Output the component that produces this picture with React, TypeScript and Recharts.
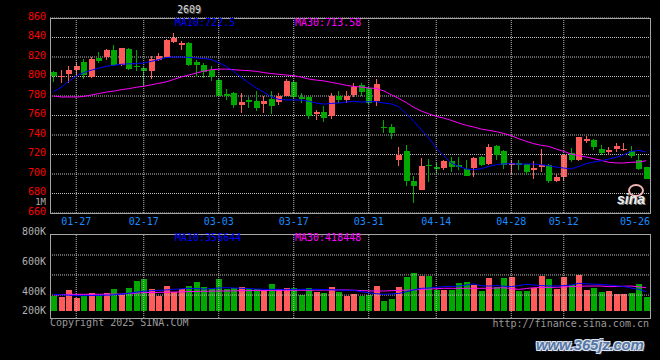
import React from "react";
import {
  Bar,
  CartesianGrid,
  ComposedChart,
  Line,
  ReferenceLine,
  XAxis,
  YAxis,
} from "recharts";

// trading days shown on the daily k-line
const DATES = [
  "01-22", "01-23", "01-24", "01-27", "02-05", "02-06", "02-07", "02-10", "02-11", "02-12",
  "02-13", "02-14", "02-17", "02-18", "02-19", "02-20", "02-21", "02-24", "02-25", "02-26",
  "02-27", "02-28", "03-03", "03-04", "03-05", "03-06", "03-07", "03-10", "03-11", "03-12",
  "03-13", "03-14", "03-17", "03-18", "03-19", "03-20", "03-21", "03-24", "03-25", "03-26",
  "03-27", "03-28", "03-31", "04-01", "04-02", "04-03", "04-07", "04-08", "04-09", "04-10",
  "04-11", "04-14", "04-15", "04-16", "04-17", "04-18", "04-21", "04-22", "04-23", "04-24",
  "04-25", "04-28", "04-29", "04-30", "05-06", "05-07", "05-08", "05-09", "05-12", "05-13",
  "05-14", "05-15", "05-16", "05-19", "05-20", "05-21", "05-22", "05-23", "05-26", "05-27",
];

const OPEN = [
  805, 800, 803, 806.5, 815, 800, 818.5, 820, 827.5, 812,
  828.5, 811, 809, 806, 816.5, 820, 835.5, 832, 834, 814.5,
  812, 807, 796.5, 782.5, 783.5, 770.5, 775.5, 775, 772, 777,
  773.5, 780, 794, 778.5, 779, 762, 764, 759, 780.5, 775.5,
  781.5, 791.5, 788, 775, 748, 748, 714.5, 724, 693, 684,
  709.5, 707, 706, 713, 709.5, 705.5, 706, 717.5, 710.5, 729,
  724, 709, 711, 710, 704.5, 707, 709.5, 693, 696.5, 722,
  714.5, 734, 735, 725.5, 722.5, 725.5, 725.5, 724, 714, 707,
];
const HIGH = [
  805.5, 807, 810.5, 815, 817.5, 820, 825.5, 828, 832, 829.5,
  829, 827.5, 809.5, 821, 824, 838, 845, 836.5, 835, 817,
  814, 810.5, 797, 787, 784, 783, 778.5, 785, 780, 785,
  783, 797, 795, 783, 779.5, 766, 769.5, 783, 785, 785,
  793, 793, 789, 797.5, 755, 751.5, 727.5, 730, 698, 716,
  715.5, 711.5, 714, 717.5, 717.5, 714.5, 717.5, 718, 731, 730,
  725, 714, 714, 710.5, 713, 726, 710, 700, 719.5, 726.5,
  738, 738.5, 735.5, 730, 727.5, 731.5, 732, 728.5, 719, 707.5,
];
const LOW = [
  794, 793.5, 793, 800, 797, 798, 814, 817, 810.5, 811,
  807, 805.5, 790, 797, 815.5, 819.5, 834.5, 827, 810.5, 800,
  798.5, 795, 779, 775.5, 767.5, 762.5, 768, 765, 763, 762,
  771, 779.5, 778, 772.5, 756, 755, 753, 756.5, 773, 773,
  779, 780.5, 772, 769.5, 742, 736, 708.5, 687.5, 670, 683.5,
  692, 700.5, 704.5, 702, 704, 697.5, 697, 708, 709.5, 714.5,
  705.5, 699.5, 704.5, 698.5, 695, 702.5, 690.5, 691.5, 692.5, 712,
  713, 731.5, 725, 719, 719, 723, 724, 716, 704.5, 694.5,
];
const CLOSE = [
  801, 801, 807, 811, 801.5, 818, 816, 827.5, 812, 829,
  808, 810, 806, 818, 821.5, 837.5, 839, 834, 812, 812,
  805, 799, 779.5, 780.5, 770.5, 773.5, 773.5, 768, 775, 769.5,
  780, 795, 778.5, 776.5, 759, 763.5, 757.5, 780.5, 775.5, 780.5,
  789, 784.5, 773, 792.5, 747, 742.5, 720, 692.5, 688, 708,
  708, 705.5, 713, 707, 707, 698, 716, 709.5, 727.5, 720,
  709.5, 711, 709.5, 702.5, 706, 709, 692.5, 696.5, 719, 714,
  737.5, 736, 727.5, 722, 725, 728.5, 726, 718, 705.5, 695,
];

const MA10 = [
  784.5, 789, 795, 800.5, 804, 806.5, 808.5, 810.5, 811.5, 812.5,
  813, 813.2, 813.8, 815.5, 817.3, 819.5, 820, 820, 819.6, 819,
  818.5, 817.5, 814, 810.4, 805.2, 799, 793.5, 788.3, 784, 779.3,
  776.5, 776, 776, 775.8, 774.7, 772.8, 771.7, 772.4, 772.8, 773.8,
  774.5, 773.8, 774.2, 774.2, 772.8, 771.9, 769, 762, 754, 745.4,
  736.9, 726.6, 718.8, 711.2, 707.8, 705.1, 704.4, 705.4, 707.8, 709.5,
  710.4, 710.6, 710.2, 710.2, 710.2, 709.5, 708.5, 707.1, 706.1, 705.1,
  707.8, 710.6, 712.3, 713.6, 715.4, 717.1, 719.8, 723.2, 724.2, 722.5,
];
const MA30 = [
  780, 779, 779, 779, 779.5, 781, 782.5, 784, 785, 786.5,
  787.5, 789, 790, 791.5, 793, 794.5, 797, 799.5, 801.5, 803.5,
  805.5, 807, 807.5, 807.6, 807, 806.4, 806, 805.3, 804, 803,
  802.3, 801.5, 800.8, 799.5, 797.4, 796.3, 795.5, 794, 792.6, 791,
  789.8, 789.2, 788.2, 787.8, 785.2, 781.3, 777.5, 773.3, 768.3, 764.6,
  761.7, 759.1, 757.4, 755, 752.3, 749.9, 748.2, 746.1, 744.8, 743.4,
  741.6, 739.3, 736.2, 733.5, 731.1, 729.4, 728.3, 725.6, 723.2, 720.5,
  718.8, 717.4, 715.7, 714, 712, 711.3, 711.3, 712, 712.3, 713.6,
];

// volume in shares
const VOLUME = [
  369000, 362000, 407000, 356000, 369000, 387000, 373000, 387000, 413000, 375000,
  420000, 467000, 480000, 413000, 369000, 433000, 396000, 411000, 433000, 460000,
  427000, 411000, 482000, 413000, 418000, 427000, 411000, 416000, 407000, 447000,
  411000, 420000, 420000, 373000, 420000, 391000, 389000, 427000, 391000, 367000,
  380000, 369000, 373000, 433000, 333000, 347000, 427000, 493000, 520000, 500000,
  500000, 407000, 407000, 407000, 453000, 460000, 440000, 402000, 487000, 427000,
  487000, 493000, 402000, 402000, 420000, 500000, 480000, 413000, 493000, 440000,
  507000, 407000, 420000, 393000, 400000, 380000, 380000, 385000, 447000, 362000,
];
const VOL_MA10 = [
  378000, 375000, 372000, 369000, 369000, 370000, 371000, 372000, 374000, 380000,
  385000, 392000, 398000, 402000, 404000, 407000, 411000, 414000, 418000, 416000,
  413000, 416000, 420000, 422000, 420000, 418000, 416000, 413000, 411000, 411000,
  411000, 411000, 411000, 411000, 411000, 411000, 410000, 409000, 406000, 404000,
  405000, 395000, 388000, 382000, 378000, 380000, 384000, 395000, 407000, 418000,
  420000, 425000, 429000, 431000, 433000, 440000, 447000, 435000, 433000, 436000,
  432000, 429000, 436000, 444000, 440000, 436000, 434000, 433000, 436000, 440000,
  451000, 448000, 445000, 444000, 440000, 435000, 430000, 420000, 411000, 396000,
];
const VOL_MA30 = [
  373000, 376000, 378000, 378000, 378000, 378000, 378000, 379000, 379000, 380000,
  384000, 386000, 389000, 390000, 391000, 392000, 393000, 394000, 396000, 397000,
  398000, 399000, 400000, 400000, 401000, 402000, 402000, 403000, 404000, 404000,
  404000, 405000, 405000, 405000, 405000, 406000, 406000, 406000, 407000, 407000,
  405000, 403000, 401000, 400000, 400000, 402000, 404000, 406000, 407000, 410000,
  413000, 415000, 418000, 418000, 418000, 418000, 418000, 418000, 418000, 420000,
  422000, 416000, 411000, 416000, 422000, 423000, 424000, 425000, 427000, 429000,
  431000, 433000, 433000, 433000, 429000, 430000, 432000, 433000, 428000, 422000,
];

const DATE_TICKS = ["01-27", "02-17", "03-03", "03-17", "03-31", "04-14", "04-28", "05-12", "05-26"];
const GRID_DATES = DATE_TICKS.slice(0, -1);
const PRICE_TICKS = [660, 680, 700, 720, 740, 760, 780, 800, 820, 840, 860];
const VOL_TICKS = [200000, 400000, 600000, 800000];
const VOL_GRID = [373000, 507000, 640000];
const VOL_FLOOR = 266667;

const RED = "#ff5b5b";
const GREEN = "#00a800";
const BLUE = "#0000ff";
const MAGENTA = "#ff00ff";
const GRID = "#bdbdbd";
const BORDER = "#a6a6a6";
const MONO = '"DejaVu Sans Mono", "Liberation Mono", monospace';

const priceRows = DATES.map((date, i) => ({
  date,
  open: OPEN[i],
  high: HIGH[i],
  low: LOW[i],
  close: CLOSE[i],
  ma10: MA10[i],
  ma30: MA30[i],
}));

const volRows = DATES.map((date, i) => ({
  date,
  vol: VOLUME[i],
  up: CLOSE[i] >= OPEN[i],
  ma10: VOL_MA10[i],
  ma30: VOL_MA30[i],
}));

const Candle = (p: any) => {
  const { x, y, width, height, payload } = p;
  if (!payload) return null;
  const { open, close, high, low } = payload;
  const color = close >= open ? RED : GREEN;
  const top = Math.min(y, y + height);
  const h = Math.abs(height);
  const span = high - low || 1;
  const toY = (v: number) => top + ((high - v) / span) * h;
  const bx = Math.round(x);
  const bodyTop = toY(Math.max(open, close));
  const bodyBot = toY(Math.min(open, close));
  return (
    <g shapeRendering="crispEdges">
      <rect x={bx + 2} y={top} width={1} height={Math.max(h, 1)} fill={color} />
      <rect
        x={bx}
        y={bodyTop}
        width={width}
        height={Math.max(bodyBot - bodyTop, 1)}
        fill={color}
      />
    </g>
  );
};

const VolBar = (p: any) => {
  const { x, y, width, height, payload } = p;
  if (!payload) return null;
  return (
    <rect
      x={Math.round(x)}
      y={Math.min(y, y + height)}
      width={width}
      height={Math.abs(height)}
      fill={payload.up ? RED : GREEN}
      shapeRendering="crispEdges"
    />
  );
};

const XTick = (p: any) => {
  // keep the last label inside the frame
  const cx = Math.min(p.x, 650 - 15);
  return (
    <text x={cx} y={p.y + 12} textAnchor="middle" fill="#1a8cff" fontSize={10} fontFamily={MONO}>
      {p.payload.value}
    </text>
  );
};

const PriceTick = (p: any) => (
  <text x={p.x} y={p.y + 1.6} textAnchor="end" fill="#ff0000" fontSize={10} fontFamily={MONO}>
    {p.payload.value}
  </text>
);

const VolTick = (p: any) => {
  const ty = Math.min(p.y, 90);
  return (
    <text x={p.x} y={ty + 3.6} textAnchor="end" fill="#b0b0b0" fontSize={10} fontFamily={MONO}>
      {Math.round(p.payload.value / 1000) + "K"}
    </text>
  );
};

const txt = (color: string): React.CSSProperties => ({
  position: "absolute",
  fontFamily: MONO,
  fontSize: 10,
  lineHeight: "12px",
  color,
  whiteSpace: "pre",
});

export default function App() {
  return (
    <div
      style={{
        position: "absolute",
        left: 0,
        top: 0,
        width: 660,
        height: 360,
        background: "#000",
        overflow: "hidden",
      }}
    >
      <div style={{ position: "absolute", left: 0, top: 0 }}>
        <ComposedChart
          width={660}
          height={232}
          data={priceRows}
          margin={{ top: 18, right: 10, bottom: 0, left: 0 }}
        >
          <CartesianGrid vertical={false} stroke={GRID} strokeDasharray="1 1" />
          {GRID_DATES.map((d) => (
            <ReferenceLine key={d} x={d} stroke={GRID} strokeDasharray="1 1" />
          ))}
          <XAxis
            dataKey="date"
            ticks={DATE_TICKS}
            interval={0}
            height={19}
            tickLine={false}
            axisLine={false}
            tickSize={0}
            tickMargin={0}
            tick={(p: any) => <XTick {...p} />}
          />
          <YAxis
            domain={[660, 860]}
            ticks={PRICE_TICKS}
            interval={0}
            width={50}
            allowDataOverflow
            tickLine={false}
            axisLine={false}
            tickSize={0}
            tickMargin={4}
            tick={(p: any) => <PriceTick {...p} />}
          />
          <Bar
            dataKey={(d: any) => [d.low, d.high]}
            barSize={6}
            shape={(p: any) => <Candle {...p} />}
            isAnimationActive={false}
          />
          <Line
            dataKey="ma30"
            stroke={MAGENTA}
            strokeWidth={1}
            dot={false}
            type="linear"
            isAnimationActive={false}
          />
          <Line
            dataKey="ma10"
            stroke={BLUE}
            strokeWidth={1}
            dot={false}
            type="linear"
            isAnimationActive={false}
          />
        </ComposedChart>
      </div>

      <div style={{ position: "absolute", left: 0, top: 220 }}>
        <ComposedChart
          width={660}
          height={110}
          data={volRows}
          margin={{ top: 14, right: 10, bottom: 12, left: 0 }}
        >
          {VOL_GRID.map((v) => (
            <ReferenceLine key={v} y={v} stroke={GRID} strokeDasharray="1 1" />
          ))}
          {GRID_DATES.map((d) => (
            <ReferenceLine key={d} x={d} stroke={GRID} strokeDasharray="1 1" />
          ))}
          <XAxis dataKey="date" hide />
          <YAxis
            domain={[220000, 780000]}
            ticks={VOL_TICKS}
            interval={0}
            width={50}
            allowDataOverflow
            tickLine={false}
            axisLine={false}
            tickSize={0}
            tickMargin={4}
            tick={(p: any) => <VolTick {...p} />}
          />
          <Bar
            dataKey={(d: any) => [VOL_FLOOR, d.vol]}
            barSize={6}
            shape={(p: any) => <VolBar {...p} />}
            isAnimationActive={false}
          />
          <Line
            dataKey="ma30"
            stroke={MAGENTA}
            strokeWidth={1}
            dot={false}
            type="linear"
            isAnimationActive={false}
          />
          <Line
            dataKey="ma10"
            stroke={BLUE}
            strokeWidth={1}
            dot={false}
            type="linear"
            isAnimationActive={false}
          />
        </ComposedChart>
      </div>

      {/* frames */}
      <div
        style={{
          position: "absolute",
          left: 50,
          top: 18,
          width: 601,
          height: 196,
          boxSizing: "border-box",
          border: `1px solid ${BORDER}`,
        }}
      />
      <div
        style={{
          position: "absolute",
          left: 50,
          top: 234,
          width: 601,
          height: 85,
          boxSizing: "border-box",
          border: `1px solid ${BORDER}`,
        }}
      />

      <span style={{ ...txt("#d8d8d8"), left: 177, top: 4, textShadow: "1px 1px 0 #555" }}>2609</span>
      <span style={{ ...txt(BLUE), left: 175, top: 17 }}>MA10:722.5</span>
      <span style={{ ...txt(MAGENTA), left: 295, top: 17 }}>MA30:713.58</span>
      <span style={{ ...txt("#b0b0b0"), right: 614, top: 199, fontSize: 9, lineHeight: "6px" }}>1M</span>
      <span style={{ ...txt(BLUE), left: 175, top: 232 }}>MA10:356644</span>
      <span style={{ ...txt(MAGENTA), left: 295, top: 232 }}>MA30:418448</span>
      <span style={{ ...txt("#9a9a9a"), left: 50, top: 317 }}>Copyright 2025 SINA.COM</span>
      <span style={{ ...txt("#9a9a9a"), right: 11, top: 318 }}>http://finance.sina.com.cn</span>

      {/* sina logo watermark */}
      <div
        style={{
          position: "absolute",
          left: 628,
          top: 184,
          width: 12,
          height: 9,
          borderRadius: "50%",
          border: "2px solid #f2b4b4",
        }}
      />
      <span
        style={{
          position: "absolute",
          left: 617,
          top: 191,
          fontFamily: '"Liberation Sans", Arial, sans-serif',
          fontWeight: "bold",
          fontStyle: "italic",
          fontSize: 14,
          lineHeight: "16px",
          color: "#eeeeee",
          textShadow: "1px 1px 0 #777",
        }}
      >
        sina
      </span>

      <span
        style={{
          position: "absolute",
          left: 536,
          top: 336,
          fontFamily: '"Liberation Sans", Arial, sans-serif',
          fontWeight: "bold",
          fontStyle: "italic",
          fontSize: 15,
          lineHeight: "18px",
          letterSpacing: "-0.2px",
          whiteSpace: "pre",
          color: "#5577a5",
          textShadow:
            "-1px -1px 0 #dde4ee, 1px -1px 0 #dde4ee, -1px 1px 0 #dde4ee, 1px 1px 0 #dde4ee, 2px 2px 1px #223",
        }}
      >
        www.365jz.com
      </span>
    </div>
  );
}
